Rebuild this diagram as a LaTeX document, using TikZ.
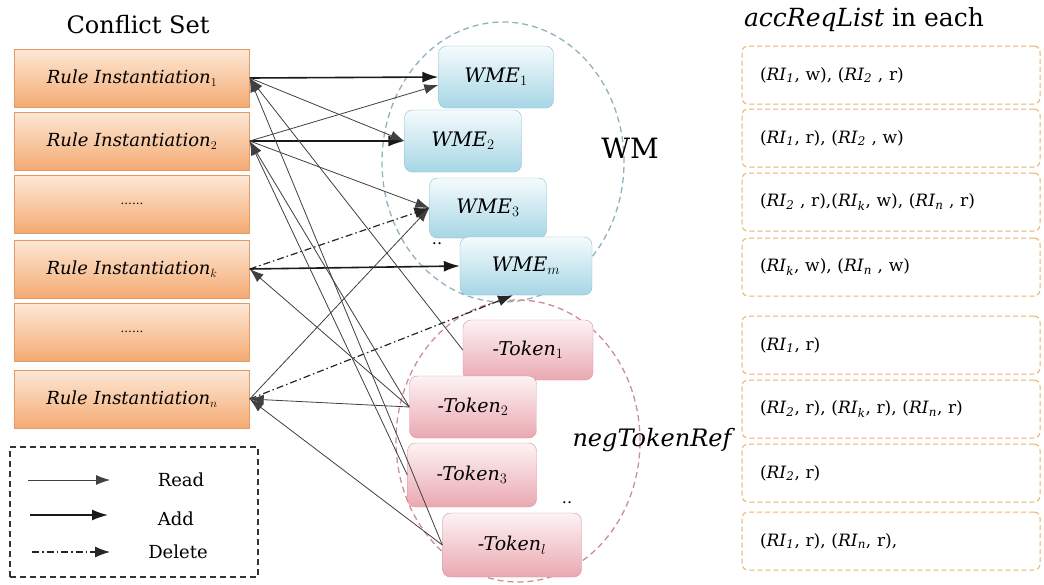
\documentclass[tikz,border=0pt]{standalone}
\usepackage{fontspec}
\setmainfont{DejaVu Serif}
\usetikzlibrary{shapes.geometric,arrows.meta,positioning,calc}

\definecolor{ruletop}{HTML}{FDE8D6}
\definecolor{rulebot}{HTML}{F4AA72}
\definecolor{rulerim}{HTML}{E49A62}
\definecolor{wmetop}{HTML}{F5FBFD}
\definecolor{wmebot}{HTML}{A6D6E5}
\definecolor{wmerim}{HTML}{8DBFCF}
\definecolor{toktop}{HTML}{FDF3F4}
\definecolor{tokbot}{HTML}{EAA8B1}
\definecolor{tokrim}{HTML}{D6939D}
\definecolor{wmring}{HTML}{8FB3BD}
\definecolor{negring}{HTML}{CD8E97}
\definecolor{accrim}{HTML}{E8B36B}

\newcommand{\fsz}[1]{\fontsize{#1}{#1}\selectfont}
\newcommand{\rinst}[1]{\textit{RI}\textsubscript{\textit{#1}}}

\tikzset{
  rulebox/.style={rectangle, draw=rulerim, top color=ruletop, bottom color=rulebot,
    minimum width=235pt, minimum height=58pt, font=\fsz{18}\itshape},
  wmebox/.style={rectangle, rounded corners=8pt, draw=wmerim, top color=wmetop,
    bottom color=wmebot, minimum height=62pt, font=\fsz{20}\itshape},
  tokbox/.style={rectangle, rounded corners=8pt, draw=tokrim, top color=toktop,
    bottom color=tokbot, minimum height=62pt, font=\fsz{19}\itshape},
  accbox/.style={rectangle, rounded corners=6pt, draw=accrim, dash pattern=on 5pt off 3pt,
    line width=1pt, minimum width=298pt, minimum height=58pt, inner xsep=18pt,
    text width=262pt, align=left, font=\fsz{17}},
  readline/.style={draw=black!75, line width=0.8pt, -{Latex[length=14pt,width=10pt]}},
  addline/.style={draw=black!90, line width=1.6pt, -{Latex[length=16pt,width=11pt]}},
  delline/.style={draw=black!85, line width=1.2pt, dash pattern=on 7pt off 3pt on 1.5pt off 3pt,
    -{Latex[length=15pt,width=11pt]}},
  ring/.style={ellipse, dash pattern=on 6pt off 4pt, line width=1.3pt}
}

\begin{document}
\begin{tikzpicture}[x=1pt, y=-1pt]

\path[use as bounding box, fill=white] (0,0) rectangle (1044,584);

% Memory rings
\node[ring, draw=wmring, minimum width=242pt, minimum height=280pt] (wm) at (503,162) {};
\node[ring, draw=negring, minimum width=244pt, minimum height=282pt] (neg) at (518,441) {};

% Conflict set
\node[font=\fsz{24}] (cstitle) at (138,25) {Conflict Set};
\node[rulebox] (ri1) at (132,78) {Rule Instantiation$_1$};
\node[rulebox] (ri2) at (132,141) {Rule Instantiation$_2$};
\node[rulebox, font=\fsz{12}] (rid1) at (132,204) {......};
\node[rulebox] (rik) at (132,269) {Rule Instantiation$_k$};
\node[rulebox, font=\fsz{12}] (rid2) at (132,332) {......};
\node[rulebox] (rin) at (132,399) {Rule Instantiation$_n$};

% Working memory elements
\node[wmebox, minimum width=115pt] (wme1) at (496,77) {WME$_1$};
\node[wmebox, minimum width=117pt] (wme2) at (463,141) {WME$_2$};
\node[wmebox, minimum width=117pt, minimum height=60pt] (wme3) at (488,208) {WME$_3$};
\node[wmebox, minimum width=132pt, minimum height=58pt] (wmem) at (526,266) {WME$_m$};
\node[font=\fsz{16}] (wdots) at (437,244) {..};
\node[font=\fsz{28}] (wmlabel) at (630,148) {WM};

% Negative tokens
\node[tokbox, minimum width=130pt, minimum height=60pt] (tok1) at (528,350) {-Token$_1$};
\node[tokbox, minimum width=127pt] (tok2) at (473,407) {-Token$_2$};
\node[tokbox, minimum width=129pt, minimum height=64pt] (tok3) at (472,475) {-Token$_3$};
\node[tokbox, minimum width=139pt, minimum height=64pt] (tokl) at (512,545) {-Token$_l$};
\node[font=\fsz{16}] (tdots) at (567,503) {..};
\node[font=\fsz{24}\itshape] (neglabel) at (652,440) {negTokenRef};

% Access request lists
\node[font=\fsz{25}] (acctitle) at (864,20) {\textit{accReqList} in each};
\foreach \name/\y/\txt in {
  acc1/75/{(\rinst{1}, w), (\rinst{2} , r)},
  acc2/138/{(\rinst{1}, r), (\rinst{2} , w)},
  acc3/202/{(\rinst{2} , r),(\rinst{k}, w), (\rinst{n} , r)},
  acc4/267/{(\rinst{k}, w), (\rinst{n} , w)},
  acc5/345/{(\rinst{1}, r)},
  acc6/409/{(\rinst{2}, r), (\rinst{k}, r), (\rinst{n}, r)},
  acc7/473/{(\rinst{2}, r)},
  acc8/541/{(\rinst{1}, r), (\rinst{n}, r),}} {
  \node[accbox] (\name) at (891,\y) {\txt};
}

% Add
\draw[addline] (ri1.east) -- (wme1.west);
\draw[addline] (ri2.east) -- (wme2.west);
\draw[addline] (rik.east) -- (wmem.west);

% Read of WMEs
\draw[readline] (ri1.east) -- (wme2.west);
\draw[readline] (ri2.east) -- ([yshift=-8pt]wme1.west);
\draw[readline] (ri2.east) -- (wme3.west);
\draw[readline] (rin.east) -- (wme3.west);

% Delete
\draw[delline] (rik.east) -- (wme3.west);
\draw[delline] (rin.east) -- ([xshift=-13pt]wmem.south);

% Read of negative tokens
\draw[readline] (tok1.west) -- (ri1.east);
\draw[readline] (tokl.west) -- (ri1.east);
\draw[readline] (tok2.west) -- (ri2.east);
\draw[readline] (tok3.west) -- (ri2.east);
\draw[readline] (tok2.west) -- (rik.east);
\draw[readline] (tok2.west) -- (rin.east);
\draw[readline] (tokl.west) -- (rin.east);

% Legend
\node[draw=black!80, dash pattern=on 6pt off 4pt, line width=1.4pt, minimum width=248pt, minimum height=130pt] (legend) at (134,512) {};
\coordinate (rdA) at (28,480);  \coordinate (rdB) at (110,480);
\coordinate (adA) at (30,515);  \coordinate (adB) at (108,515);
\coordinate (dlA) at (32,552);  \coordinate (dlB) at (110,552);
\draw[readline] (rdA) -- (rdB);
\draw[addline] (adA) -- (adB);
\draw[delline] (dlA) -- (dlB);
\node[font=\fsz{18}] (rdtxt) at (181,480) {Read};
\node[font=\fsz{18}] (adtxt) at (176,519) {Add};
\node[font=\fsz{18}] (dltxt) at (178,552) {Delete};

\end{tikzpicture}
\end{document}
